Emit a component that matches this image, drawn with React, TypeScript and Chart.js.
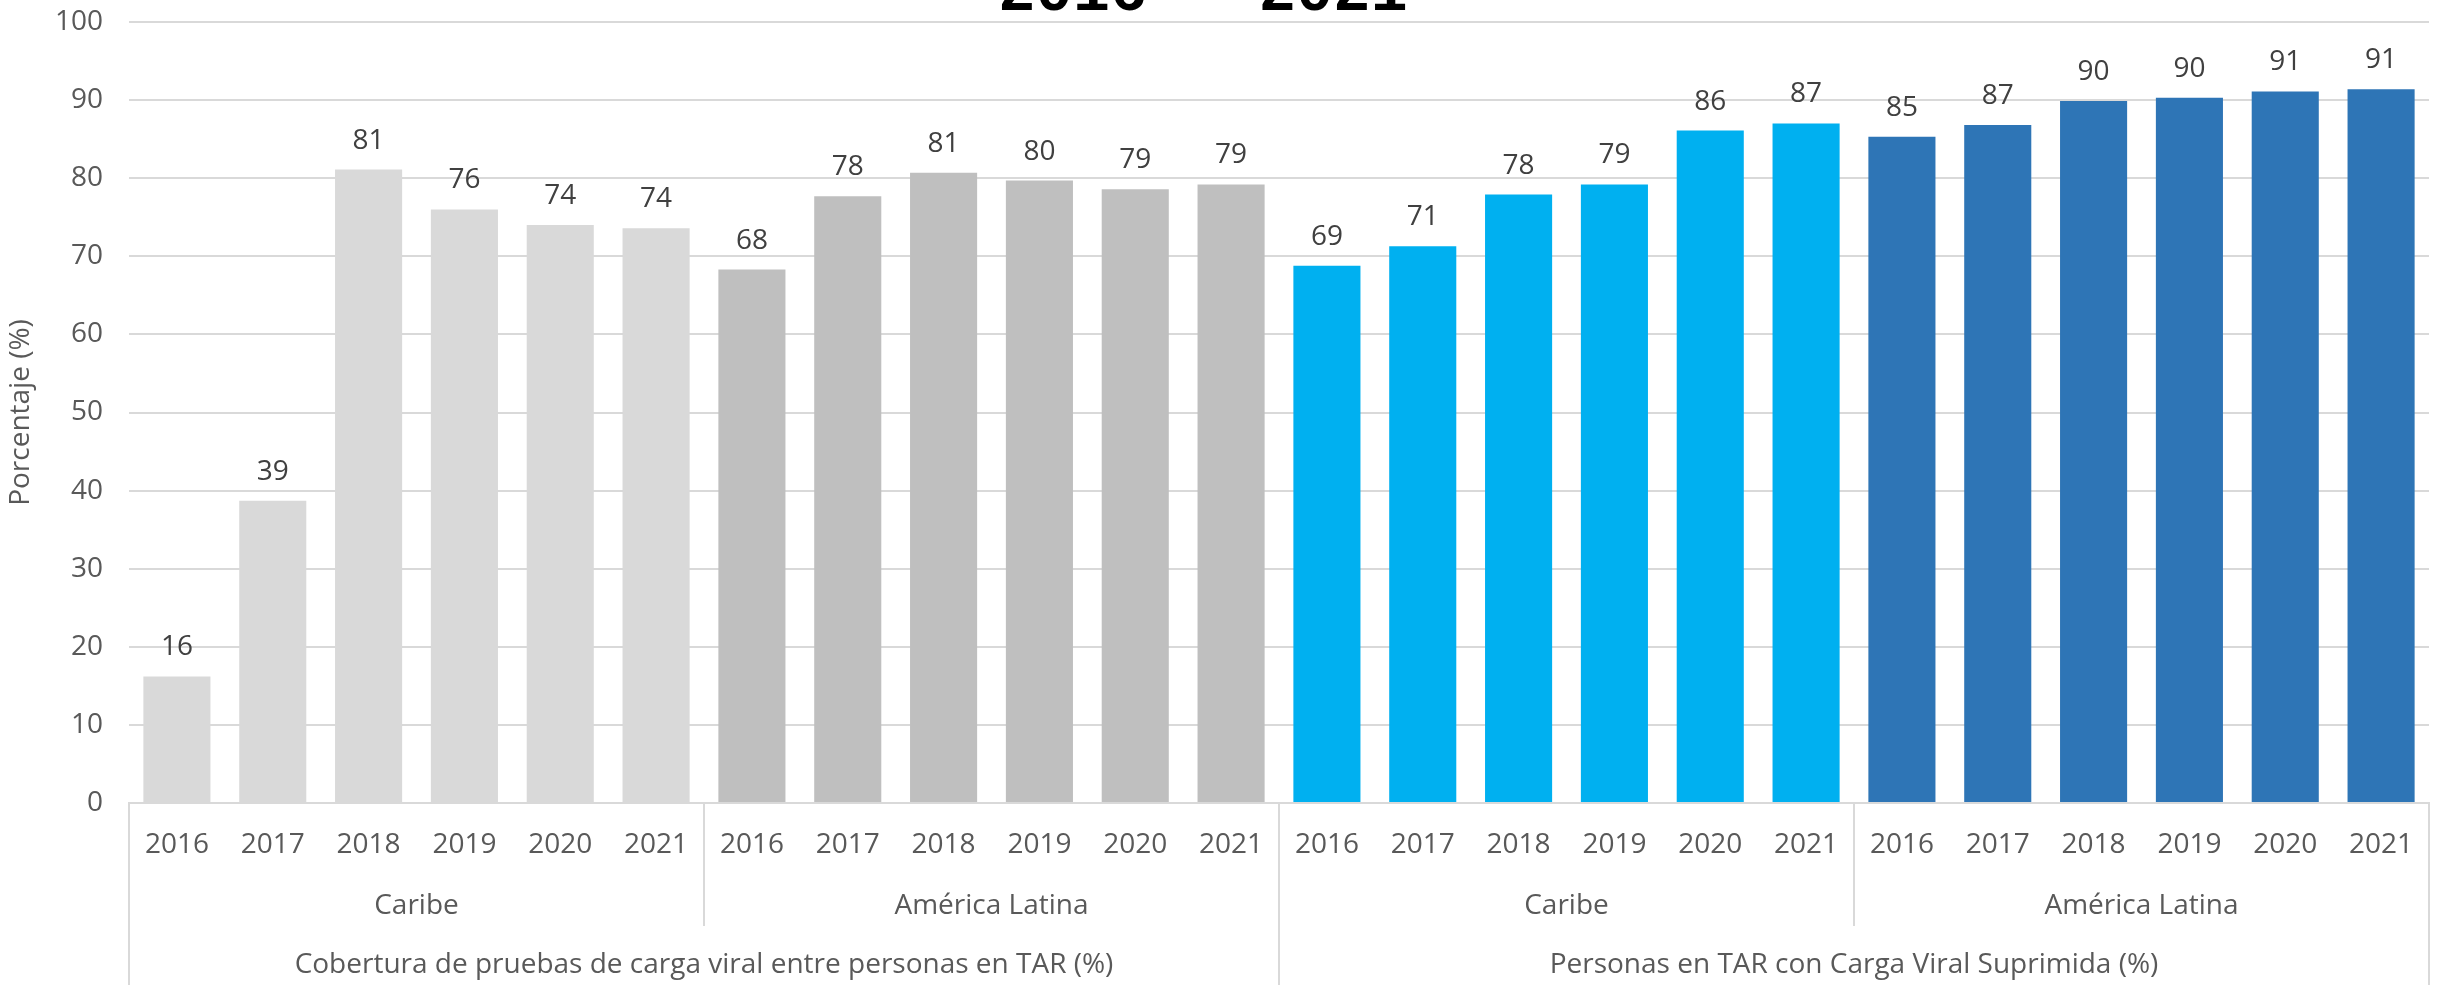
import React, { useEffect, useRef } from "react";
import { Chart, registerables } from "chart.js";

Chart.register(...registerables);

const years = ["2016", "2017", "2018", "2019", "2020", "2021"];
const regions = ["Caribe", "América Latina", "Caribe", "América Latina"];
const groups = [
  "Cobertura de pruebas de carga viral entre personas en TAR (%)",
  "Personas en TAR con Carga Viral Suprimida (%)",
];
const coberturaCaribe = [16.2, 38.7, 81.1, 76.0, 74.0, 73.6];
const coberturaAL = [68.3, 77.7, 80.7, 79.7, 78.6, 79.2];
const suprimidaCaribe = [68.8, 71.3, 77.9, 79.2, 86.1, 87.0];
const suprimidaAL = [85.3, 86.8, 89.9, 90.3, 91.1, 91.4];
const regionColors = ["#D9D9D9", "#BFBFBF", "#00B0F0", "#2E75B6"];
const yTicks = [0, 10, 20, 30, 40, 50, 60, 70, 80, 90, 100];
const titleText = "2016 - 2021";

const FONT = "'Open Sans', sans-serif";
const TEXT = "#595959";
const LABEL = "#404040";
const LINE = "#D9D9D9";

export default function App() {
  const ref = useRef<HTMLCanvasElement | null>(null);

  useEffect(() => {
    const canvas = ref.current;
    if (!canvas) return;
    const series = [coberturaCaribe, coberturaAL, suprimidaCaribe, suprimidaAL];
    const labels: string[] = [];
    const values: number[] = [];
    const colors: string[] = [];
    series.forEach((s, si) => {
      s.forEach((v, i) => {
        labels.push(years[i]);
        values.push(v);
        colors.push(regionColors[si]);
      });
    });

    const multiLevel = {
      id: "multiLevel",
      afterDraw(chart: any) {
        const ctx = chart.ctx;
        const x = chart.scales.x;
        const area = chart.chartArea;
        const cw = x.getPixelForValue(1) - x.getPixelForValue(0);
        const edge = (i: number) => x.getPixelForValue(0) + (i - 0.5) * cw;
        ctx.save();
        ctx.strokeStyle = LINE;
        ctx.lineWidth = 2;
        [0, 6, 12, 18, 24].forEach((b) => {
          const px = Math.round(edge(b));
          const bottom = b % 12 === 0 ? chart.height : area.bottom + 123;
          ctx.beginPath();
          ctx.moveTo(px, area.bottom);
          ctx.lineTo(px, bottom);
          ctx.stroke();
        });
        ctx.fillStyle = TEXT;
        ctx.font = `28px ${FONT}`;
        ctx.textAlign = "center";
        ctx.textBaseline = "middle";
        regions.forEach((r, i) => {
          const cx = (edge(i * 6) + edge(i * 6 + 6)) / 2;
          ctx.fillText(r, cx, area.bottom + 103);
        });
        groups.forEach((g, i) => {
          const cx = (edge(i * 12) + edge(i * 12 + 12)) / 2;
          ctx.fillText(g, cx, area.bottom + 162);
        });
        // title (partially outside canvas top)
        ctx.fillStyle = "#000000";
        ctx.font = `bold 62px 'Liberation Mono', 'Courier New', monospace`;
        ctx.textBaseline = "alphabetic";
        ctx.fillText(titleText, 1203, 10);
        ctx.restore();
      },
      afterDatasetsDraw(chart: any) {
        const ctx = chart.ctx;
        const meta = chart.getDatasetMeta(0);
        ctx.save();
        ctx.fillStyle = LABEL;
        ctx.font = `28px ${FONT}`;
        ctx.textAlign = "center";
        ctx.textBaseline = "middle";
        meta.data.forEach((bar: any, i: number) => {
          ctx.fillText(String(Math.round(values[i])), bar.x, bar.y - 29);
        });
        ctx.restore();
      },
    };

    const chart = new Chart(canvas, {
      type: "bar",
      data: {
        labels,
        datasets: [
          {
            data: values,
            backgroundColor: colors,
            borderWidth: 0,
            barPercentage: 0.7,
            categoryPercentage: 1,
          },
        ],
      },
      options: {
        responsive: false,
        animation: false,
        layout: { padding: { left: 0, right: 8, top: 22, bottom: 0 } },
        plugins: {
          legend: { display: false },
          tooltip: { enabled: false },
          title: { display: false },
        },
        scales: {
          x: {
            grid: { display: false, drawTicks: false },
            border: { display: true, color: LINE, width: 2 },
            ticks: {
              color: TEXT,
              font: { family: FONT, size: 28 },
              padding: 25,
              autoSkip: false,
              maxRotation: 0,
            },
            afterFit: (s: any) => {
              s.height = 182;
              s.paddingLeft = 0;
              s.paddingRight = 0;
            },
          },
          y: {
            min: 0,
            max: 100,
            afterBuildTicks: (s: any) => {
              s.ticks = yTicks.map((v) => ({ value: v }));
            },
            grid: { color: LINE, lineWidth: 2, drawTicks: false },
            border: { display: false },
            ticks: {
              color: TEXT,
              font: { family: FONT, size: 28 },
              padding: 26,
            },
            title: {
              display: true,
              text: "Porcentaje (%)",
              color: TEXT,
              font: { family: FONT, size: 28 },
              padding: { top: 4, bottom: 0 },
            },
            afterFit: (s: any) => {
              s.width = 129;
              s.paddingTop = 0;
              s.paddingBottom = 0;
            },
          },
        },
      },
      plugins: [multiLevel],
    });
    return () => chart.destroy();
  }, []);

  return (
    <div style={{ position: "absolute", left: 0, top: 0, width: 2437, height: 985, background: "#fff" }}>
      <canvas ref={ref} width={2437} height={985} style={{ display: "block" }} />
    </div>
  );
}
